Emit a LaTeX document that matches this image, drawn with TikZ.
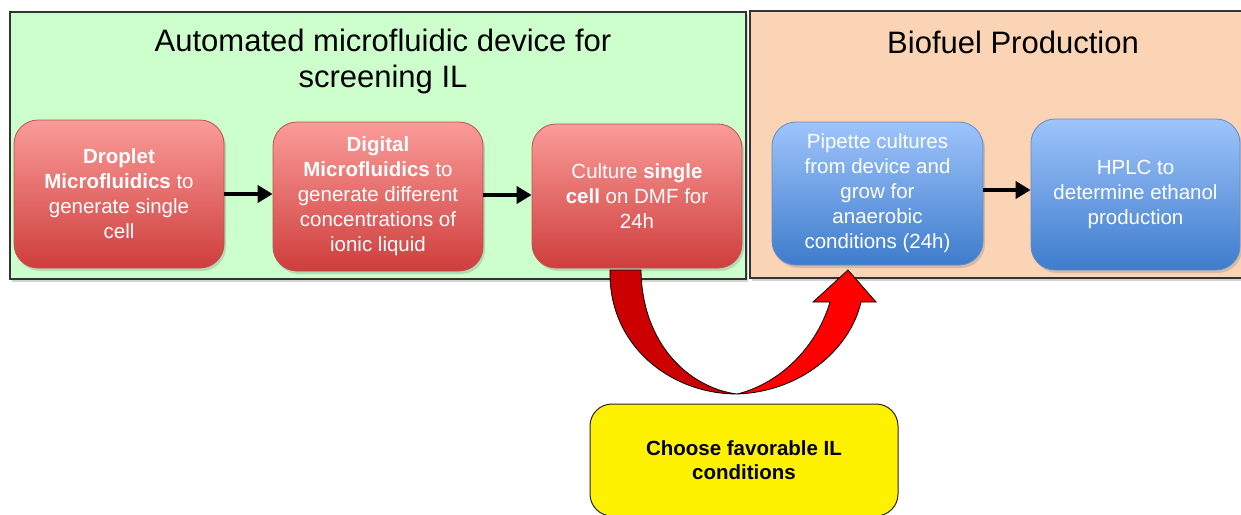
\documentclass[tikz,border=0pt]{standalone}
\usepackage{fontspec}
\setmainfont{Liberation Sans}
\usetikzlibrary{arrows.meta,shadows}
\definecolor{panelgreen}{RGB}{204,255,204}
\definecolor{panelorange}{RGB}{250,212,180}
\definecolor{redtop}{RGB}{250,156,153}
\definecolor{redbot}{RGB}{206,62,60}
\definecolor{redborder}{RGB}{190,80,78}
\definecolor{bluetop}{RGB}{158,196,251}
\definecolor{bluebot}{RGB}{62,124,204}
\definecolor{blueborder}{RGB}{95,140,205}
\definecolor{darkred}{RGB}{204,0,0}
\definecolor{brightred}{RGB}{255,0,0}
\tikzset{
  panel/.style={draw=black!80, line width=1.1pt, inner sep=0pt,
    drop shadow={shadow xshift=2pt, shadow yshift=-3pt, opacity=0.35}},
  boxtext/.style={text=white, align=center, font=\fontsize{20.5}{25}\selectfont},
  redbox/.style={boxtext, rounded corners=24pt, draw=redborder, line width=0.8pt,
    top color=redtop, bottom color=redbot, inner sep=0pt,
    drop shadow={shadow xshift=2pt, shadow yshift=-3pt, opacity=0.3}},
  bluebox/.style={boxtext, rounded corners=24pt, draw=blueborder, line width=0.8pt,
    top color=bluetop, bottom color=bluebot, inner sep=0pt,
    drop shadow={shadow xshift=2pt, shadow yshift=-3pt, opacity=0.3}},
  flow/.style={line width=4.5pt, -{Triangle[length=15pt,width=17pt]}},
  title/.style={font=\fontsize{31}{36}\selectfont, align=center, text=black},
}
\begin{document}
\begin{tikzpicture}[x=1pt,y=-1pt]
\useasboundingbox (0,0) rectangle (1241,514);
% panels
\node[panel, fill=panelgreen, minimum width=736pt, minimum height=267pt] (greenpanel) at (378,145.5) {};
\node[panel, fill=panelorange, minimum width=500pt, minimum height=267pt] (orangepanel) at (1000,144.5) {};
\node[title] (greentitle) at (383,61) {Automated microfluidic device for\\screening IL};
\node[title] (orangetitle) at (1013,42) {Biofuel Production};
% red boxes
\node[redbox, minimum width=210pt, minimum height=148pt] (b1) at (119,194)
  {\textbf{Droplet}\\\textbf{Microfluidics} to\\generate single\\cell};
\node[redbox, minimum width=210pt, minimum height=149pt] (b2) at (378,196.5)
  {\textbf{Digital}\\\textbf{Microfluidics} to\\generate different\\concentrations of\\ionic liquid};
\node[redbox, minimum width=210pt, minimum height=144pt] (b3) at (637,196)
  {Culture \textbf{single}\\\textbf{cell} on DMF for\\24h};
% blue boxes
\node[bluebox, minimum width=211pt, minimum height=143pt] (c1) at (877.5,193.5)
  {Pipette cultures\\from device and\\grow for\\anaerobic\\conditions (24h)};
\node[bluebox, minimum width=209pt, minimum height=151pt] (c2) at (1135.5,194.5)
  {HPLC to\\determine ethanol\\production};
% yellow box
\node[draw=black!85, line width=1pt, fill=yellow, rounded corners=22pt,
  minimum width=308pt, minimum height=112pt, inner sep=0pt, align=center,
  font=\fontsize{20.5}{24}\selectfont\bfseries] (y1) at (744,460)
  {Choose favorable IL\\conditions};
% flow arrows
\draw[flow] (b1.east |- 0,194) -- (b2.west |- 0,194);
\draw[flow] (b2.east |- 0,195) -- (b3.west |- 0,195);
\draw[flow] (c1.east |- 0,190) -- (c2.west |- 0,190);
% curved block arrow
\coordinate (bot) at (737,394);
\draw[fill=darkred, line width=0.8pt, line join=round]
  (610,270) .. controls (608,345) and (670,394) .. (bot)
  .. controls (690,388) and (642,345) .. (641,270) -- cycle;
\draw[fill=brightred, line width=0.8pt, line join=miter]
  (bot) .. controls (800,392) and (850,350) .. (861,302)
  -- (876,302) -- (848,270) -- (813,302) -- (830,302)
  .. controls (815,352) and (775,385) .. (bot) -- cycle;
\end{tikzpicture}
\end{document}
